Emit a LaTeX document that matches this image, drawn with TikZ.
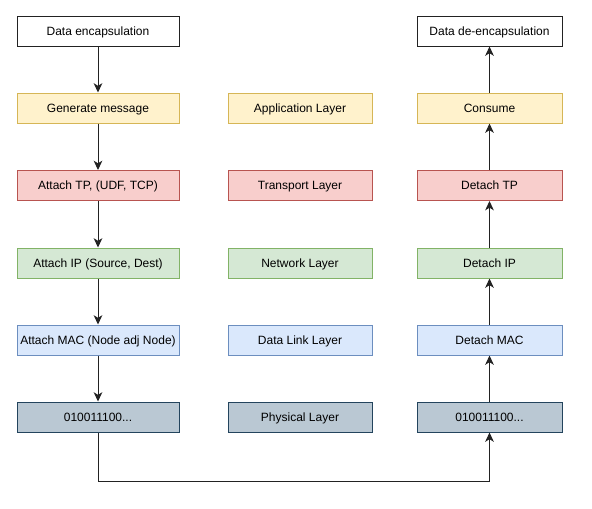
\documentclass[tikz,border=0pt]{standalone}
\usepackage{fontspec}
\setmainfont{Liberation Sans}
\usetikzlibrary{arrows.meta}
\definecolor{yF}{HTML}{FFF2CC}\definecolor{yD}{HTML}{D6B656}
\definecolor{rF}{HTML}{F8CECC}\definecolor{rD}{HTML}{B85450}
\definecolor{gF}{HTML}{D5E8D4}\definecolor{gD}{HTML}{82B366}
\definecolor{bF}{HTML}{DAE8FC}\definecolor{bD}{HTML}{6C8EBF}
\definecolor{sF}{HTML}{BAC8D3}\definecolor{sD}{HTML}{23445D}
\definecolor{ln}{HTML}{222222}
\begin{document}
\begin{tikzpicture}[x=0.75pt,y=-0.75pt,
  box/.style={draw,line width=0.75pt,minimum height=22.5pt,inner sep=0pt,text height=6.5pt,text depth=0pt,font=\fontsize{9}{11}\selectfont},
  lbox/.style={box,minimum width=121.5pt},
  mbox/.style={box,minimum width=108pt},
  rbox/.style={box,minimum width=108.75pt},
  wh/.style={fill=white,draw=ln},
  ye/.style={fill=yF,draw=yD},
  re/.style={fill=rF,draw=rD},
  gr/.style={fill=gF,draw=gD},
  bl/.style={fill=bF,draw=bD},
  sl/.style={fill=sF,draw=sD},
  arr/.style={draw=ln,line width=0.75pt,-{Stealth[length=7pt,width=6.5pt,inset=2pt]}}]
\useasboundingbox (0,0) rectangle (592,508);
\node[lbox,wh] (l0) at (98,31) {Data encapsulation};
\node[lbox,ye] (l1) at (98,108) {Generate message};
\node[lbox,re] (l2) at (98,185.5) {Attach TP, (UDF, TCP)};
\node[lbox,gr] (l3) at (98,263) {Attach IP (Source, Dest)};
\node[lbox,bl] (l4) at (98,340) {Attach MAC (Node adj Node)};
\node[lbox,sl] (l5) at (98,417) {010011100...};
\node[mbox,ye] (m1) at (300,108) {Application Layer};
\node[mbox,re] (m2) at (300,185.5) {Transport Layer};
\node[mbox,gr] (m3) at (300,263) {Network Layer};
\node[mbox,bl] (m4) at (300,340) {Data Link Layer};
\node[mbox,sl] (m5) at (300,417) {Physical Layer};
\node[rbox,wh] (r0) at (489.5,31) {Data de-encapsulation};
\node[rbox,ye] (r1) at (489.5,108) {Consume};
\node[rbox,re] (r2) at (489.5,185.5) {Detach TP};
\node[rbox,gr] (r3) at (489.5,263) {Detach IP};
\node[rbox,bl] (r4) at (489.5,340) {Detach MAC};
\node[rbox,sl] (r5) at (489.5,417) {010011100...};
\foreach \a/\b in {l0/l1,l1/l2,l2/l3,l3/l4,l4/l5,r5/r4,r4/r3,r3/r2,r2/r1,r1/r0}
  \draw[arr] (\a) -- (\b);
\coordinate (c1) at (98,481);
\coordinate (c2) at (489.5,481);
\draw[arr] (l5.south) -- (c1) -- (c2) -- (r5.south);
\end{tikzpicture}
\end{document}
